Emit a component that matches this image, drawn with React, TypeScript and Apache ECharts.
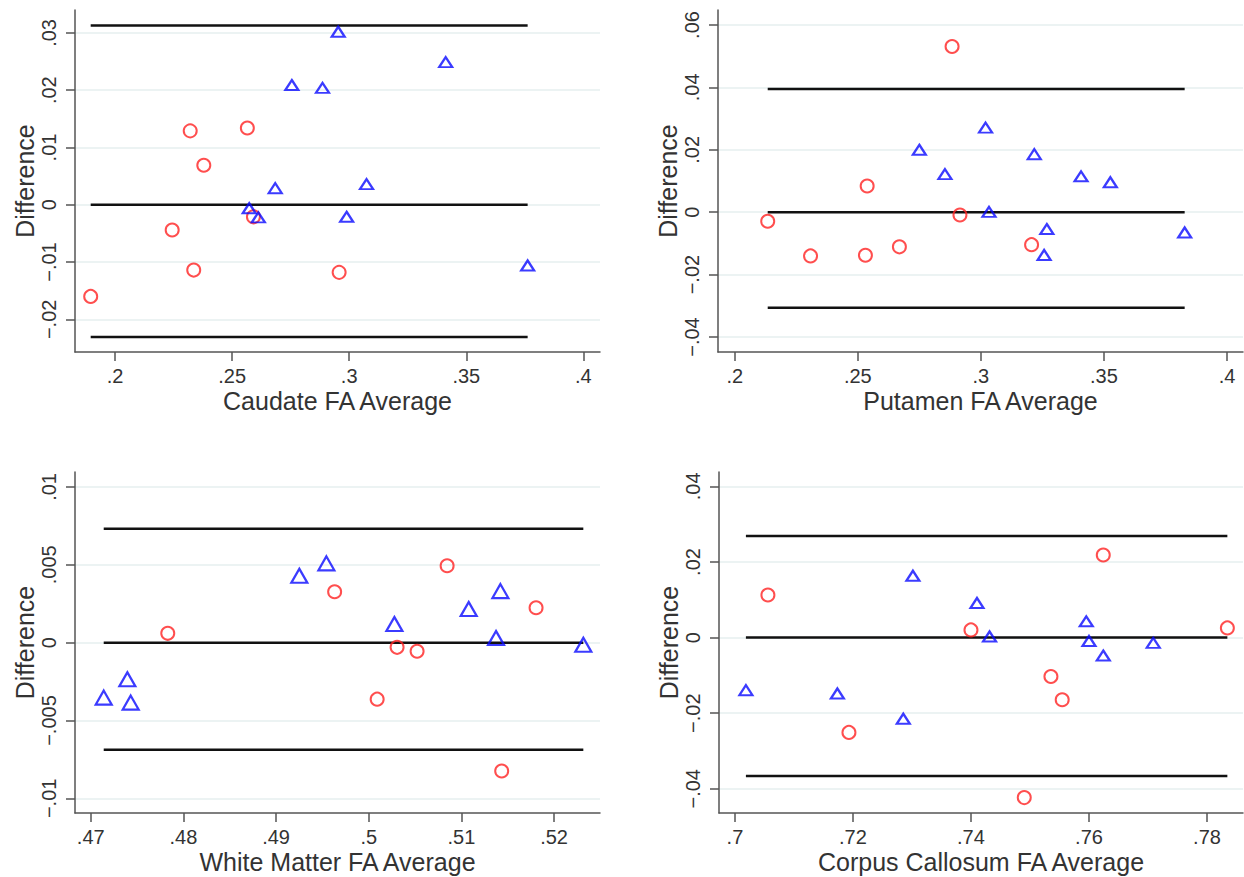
import React, { useEffect, useRef } from "react";
import * as echarts from "echarts";

// ---------- data ----------
const caudateCircleX = [0.1896, 0.2321, 0.2565, 0.2379, 0.2244, 0.2336, 0.2591, 0.2957];
const caudateCircleY = [-0.016, 0.0129, 0.0134, 0.0069, -0.0044, -0.0114, -0.0021, -0.0118];
const caudateTriangleX = [0.2755, 0.2886, 0.2953, 0.3412, 0.3074, 0.2989, 0.3762, 0.2684, 0.2573, 0.2612];
const caudateTriangleY = [0.0209, 0.0204, 0.0302, 0.0249, 0.0036, -0.0021, -0.0106, 0.0029, -0.0006, -0.0022];
const caudateLimits = [0.0313, 0, -0.0231];
const caudateXTicks = [0.2, 0.25, 0.3, 0.35, 0.4];
const caudateYTicks = [-0.02, -0.01, 0, 0.01, 0.02, 0.03];

const putamenCircleX = [0.2134, 0.2308, 0.2538, 0.2531, 0.2669, 0.2883, 0.2915, 0.3206];
const putamenCircleY = [-0.0029, -0.014, 0.0084, -0.0138, -0.0111, 0.0531, -0.0009, -0.0104];
const putamenTriangleX = [0.275, 0.2854, 0.3019, 0.3217, 0.3407, 0.3526, 0.3033, 0.3268, 0.3257, 0.3828];
const putamenTriangleY = [0.02, 0.0122, 0.0271, 0.0186, 0.0115, 0.0096, 0.0001, -0.0054, -0.0137, -0.0065];
const putamenLimits = [0.0395, 0, -0.0306];
const putamenXTicks = [0.2, 0.25, 0.3, 0.35, 0.4];
const putamenYTicks = [-0.04, -0.02, 0, 0.02, 0.04, 0.06];

const whiteCircleX = [0.47831, 0.49632, 0.50846, 0.51806, 0.50306, 0.50522, 0.50091, 0.51435];
const whiteCircleY = [0.0006, 0.00327, 0.00494, 0.00224, -0.0003, -0.00055, -0.00363, -0.00824];
const whiteTriangleX = [0.4714, 0.47395, 0.47431, 0.49251, 0.49543, 0.50277, 0.51079, 0.51421, 0.51374, 0.52316];
const whiteTriangleY = [-0.00353, -0.00235, -0.00385, 0.0043, 0.00509, 0.0012, 0.00216, 0.00331, 0.0003, -0.00013];
const whiteLimits = [0.00731, 0, -0.00688];
const whiteXTicks = [0.47, 0.48, 0.49, 0.5, 0.51, 0.52];
const whiteYTicks = [-0.01, -0.005, 0, 0.005, 0.01];

const corpusCircleX = [0.70559, 0.71932, 0.74, 0.76242, 0.78345, 0.75355, 0.75546, 0.74903];
const corpusCircleY = [0.01127, -0.02508, 0.00203, 0.02184, 0.00256, -0.0103, -0.01645, -0.04233];
const corpusTriangleX = [0.70186, 0.71736, 0.72853, 0.73016, 0.74102, 0.74315, 0.75954, 0.76, 0.76242, 0.77089];
const corpusTriangleY = [-0.01391, -0.01479, -0.02147, 0.01637, 0.00916, 0.0003, 0.0043, -0.0009, -0.00475, -0.0014];
const corpusLimits = [0.02685, 0, -0.0366];
const corpusXTicks = [0.7, 0.72, 0.74, 0.76, 0.78];
const corpusYTicks = [-0.04, -0.02, 0, 0.02, 0.04];

const xTitles = ["Caudate FA Average", "Putamen FA Average", "White Matter FA Average", "Corpus Callosum FA Average"];
const yTitle = "Difference";

// ---------- layout ----------
const FONT = "'Liberation Sans', Arial, Helvetica, sans-serif";
const RED = "#ff2222";
const BLUE = "#0a0aff";
const AXIS = "#555555";
const TEXT = "#333333";

const panels = [
  {
    cx: caudateCircleX, cy: caudateCircleY, tx: caudateTriangleX, ty: caudateTriangleY,
    limits: caudateLimits, xTicks: caudateXTicks, yTicks: caudateYTicks,
    grid: { left: 75, top: 10, width: 525, height: 342 },
    xRange: [0.1829, 0.4071], yRange: [-0.0257, 0.034], tri: [13, 10],
  },
  {
    cx: putamenCircleX, cy: putamenCircleY, tx: putamenTriangleX, ty: putamenTriangleY,
    limits: putamenLimits, xTicks: putamenXTicks, yTicks: putamenYTicks,
    grid: { left: 718, top: 10, width: 525, height: 342 },
    xRange: [0.1932, 0.4065], yRange: [-0.0448, 0.0648], tri: [13, 10],
  },
  {
    cx: whiteCircleX, cy: whiteCircleY, tx: whiteTriangleX, ty: whiteTriangleY,
    limits: whiteLimits, xTicks: whiteXTicks, yTicks: whiteYTicks,
    grid: { left: 75, top: 472, width: 525, height: 341 },
    xRange: [0.4683, 0.52496], yRange: [-0.01094, 0.01096], tri: [16, 14],
  },
  {
    cx: corpusCircleX, cy: corpusCircleY, tx: corpusTriangleX, ty: corpusTriangleY,
    limits: corpusLimits, xTicks: corpusXTicks, yTicks: corpusYTicks,
    grid: { left: 719, top: 472, width: 524, height: 341 },
    xRange: [0.6973, 0.7861], yRange: [-0.0464, 0.0438], tri: [13, 10],
  },
];

const fmt = (v: number) => {
  if (Math.abs(v) < 1e-12) return "0";
  const s = String(+v.toFixed(6));
  return s.replace(/^(-?)0\./, (_m, sign) => (sign ? "\u2212." : "."));
};

function buildOption() {
  const grid: any[] = [];
  const xAxis: any[] = [];
  const yAxis: any[] = [];
  const series: any[] = [];

  panels.forEach((p, i) => {
    grid.push({ ...p.grid, containLabel: false });
    xAxis.push({
      gridIndex: i,
      type: "value",
      min: p.xRange[0],
      max: p.xRange[1],
      name: xTitles[i],
      nameLocation: "middle",
      nameGap: 36,
      nameTextStyle: { fontSize: 25, color: TEXT, fontFamily: FONT },
      axisLine: { show: true, onZero: false, lineStyle: { color: AXIS, width: 1.5 } },
      axisTick: { show: true, length: 9, customValues: p.xTicks, lineStyle: { color: AXIS, width: 1.5 } },
      axisLabel: { customValues: p.xTicks, formatter: fmt, fontSize: 20, color: TEXT, fontFamily: FONT, margin: 14 },
      splitLine: { show: false },
    });
    yAxis.push({
      gridIndex: i,
      type: "value",
      min: p.yRange[0],
      max: p.yRange[1],
      name: yTitle,
      nameLocation: "middle",
      nameGap: 38,
      nameTextStyle: { fontSize: 25, color: TEXT, fontFamily: FONT },
      axisLine: { show: true, onZero: false, lineStyle: { color: AXIS, width: 1.5 } },
      axisTick: { show: true, length: 9, customValues: p.yTicks, lineStyle: { color: AXIS, width: 1.5 } },
      axisLabel: { customValues: p.yTicks, formatter: fmt, fontSize: 20, color: TEXT, fontFamily: FONT, margin: 16, rotate: 90 },
      splitLine: { show: true, lineStyle: { color: "#e6efef", width: 1.5 } },
    });

    const allX = [...p.cx, ...p.tx];
    const xLo = Math.min(...allX);
    const xHi = Math.max(...allX);
    p.limits.forEach((v) => {
      series.push({
        type: "line",
        xAxisIndex: i,
        yAxisIndex: i,
        data: [[xLo, v], [xHi, v]],
        symbol: "none",
        silent: true,
        z: 2,
        lineStyle: { color: "#111111", width: 2.5 },
      });
    });
    series.push({
      type: "scatter",
      xAxisIndex: i,
      yAxisIndex: i,
      data: p.cx.map((x, k) => [x, p.cy[k]]),
      symbol: "circle",
      symbolSize: 13,
      z: 4,
      itemStyle: { color: "rgba(0,0,0,0)", borderColor: RED, borderWidth: 2 },
    });
    series.push({
      type: "scatter",
      xAxisIndex: i,
      yAxisIndex: i,
      data: p.tx.map((x, k) => [x, p.ty[k]]),
      symbol: "triangle",
      symbolSize: p.tri,
      z: 5,
      itemStyle: { color: "rgba(0,0,0,0)", borderColor: BLUE, borderWidth: 2.2 },
    });
  });

  return {
    animation: false,
    backgroundColor: "#ffffff",
    grid,
    xAxis,
    yAxis,
    series,
  };
}

export default function App() {
  const ref = useRef<HTMLDivElement>(null);
  useEffect(() => {
    if (!ref.current) return;
    const chart = echarts.init(ref.current, undefined, { renderer: "svg" });
    chart.setOption(buildOption() as any);
    return () => chart.dispose();
  }, []);
  return (
    <div
      ref={ref}
      style={{ position: "absolute", left: 0, top: 0, width: 1244, height: 877, background: "#fff" }}
    />
  );
}
